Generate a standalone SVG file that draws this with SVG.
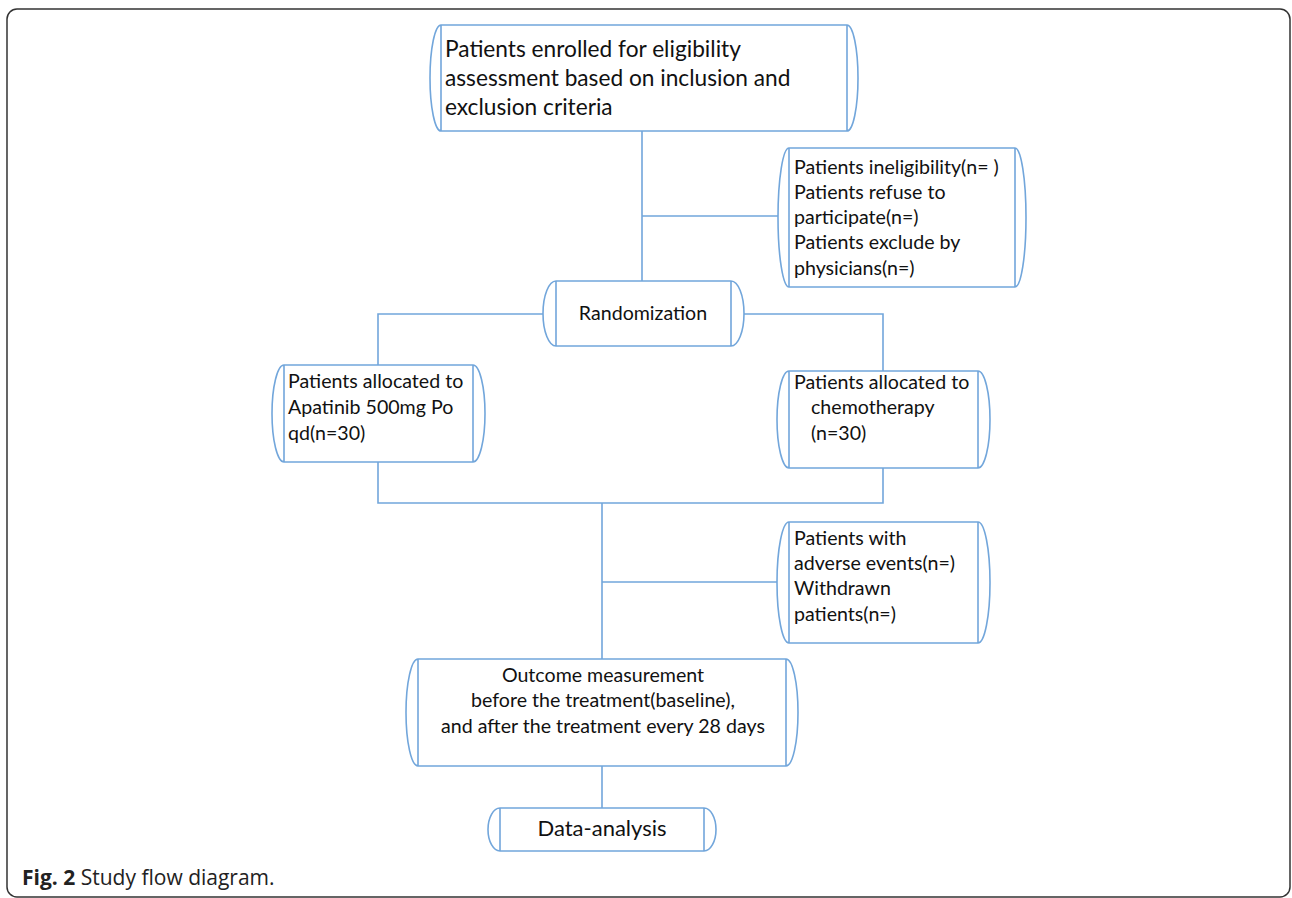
<svg xmlns="http://www.w3.org/2000/svg" width="1292" height="898" viewBox="0 0 1292 898">
<style>
.shape{fill:#fff;stroke:#72a6db;stroke-width:1.6}
.conn{fill:none;stroke:#72a6db;stroke-width:1.6}
.t{font-family:Lato,"Open Sans",sans-serif;font-size:19.6px;fill:#111}
.big{font-size:22.7px}
.c{text-anchor:middle}
.cap{font-family:"Open Sans",sans-serif;font-size:21px;fill:#222}
</style>
<rect x="7" y="9" width="1283" height="888" rx="10" fill="#fff" stroke="#333" stroke-width="1.5"/>
<g id="connectors">
<path class="conn" d="M642 131V281M642 216H778M543 314H378V365M744 314H883V371M378 462V503H883V468M602 503V659M602 582H778M602 766V808"/>
</g>
<g id="n1">
<path class="shape" d="M441 25H847A11 53 0 0 1 847 131H441A11 53 0 0 1 441 25ZM441 25V131M847 25V131"/>
<text class="t big" x="445" y="57">Patients enrolled for eligibility</text>
<text class="t big" x="445" y="86">assessment based on inclusion and</text>
<text class="t big" x="445" y="115">exclusion criteria</text>
</g>
<g id="n2">
<path class="shape" d="M789 148H1015A11 69.5 0 0 1 1015 287H789A11 69.5 0 0 1 789 148ZM789 148V287M1015 148V287"/>
<text class="t" x="794" y="174">Patients ineligibility(n= )</text>
<text class="t" x="794" y="199">Patients refuse to</text>
<text class="t" x="794" y="224">participate(n=)</text>
<text class="t" x="794" y="249">Patients exclude by</text>
<text class="t" x="794" y="275">physicians(n=)</text>
</g>
<g id="n3">
<path class="shape" d="M556 281H731A13 32.5 0 0 1 731 346H556A13 32.5 0 0 1 556 281ZM556 281V346M731 281V346"/>
<text class="t c" x="643" y="320">Randomization</text>
</g>
<g id="n4">
<path class="shape" d="M284 365H473A12 48.5 0 0 1 473 462H284A12 48.5 0 0 1 284 365ZM284 365V462M473 365V462"/>
<text class="t" x="288" y="388">Patients allocated to</text>
<text class="t" x="288" y="414">Apatinib 500mg Po</text>
<text class="t" x="288" y="440">qd(n=30)</text>
</g>
<g id="n5">
<path class="shape" d="M789 371H978A12 48.5 0 0 1 978 468H789A12 48.5 0 0 1 789 371ZM789 371V468M978 371V468"/>
<text class="t" x="794" y="389">Patients allocated to</text>
<text class="t" x="811" y="414">chemotherapy</text>
<text class="t" x="811" y="440">(n=30)</text>
</g>
<g id="n6">
<path class="shape" d="M789 522H978A12 60.5 0 0 1 978 643H789A12 60.5 0 0 1 789 522ZM789 522V643M978 522V643"/>
<text class="t" x="794" y="545">Patients with</text>
<text class="t" x="794" y="570">adverse events(n=)</text>
<text class="t" x="794" y="595">Withdrawn</text>
<text class="t" x="794" y="621">patients(n=)</text>
</g>
<g id="n7">
<path class="shape" d="M418 659H786A12 53.5 0 0 1 786 766H418A12 53.5 0 0 1 418 659ZM418 659V766M786 659V766"/>
<text class="t c" x="603" y="682">Outcome measurement</text>
<text class="t c" x="603" y="707">before the treatment(baseline),</text>
<text class="t c" x="603" y="733">and after the treatment every 28 days</text>
</g>
<g id="n8">
<path class="shape" d="M500 808H704A12 21.5 0 0 1 704 851H500A12 21.5 0 0 1 500 808ZM500 808V851M704 808V851"/>
<text class="t c" x="602" y="836" style="font-size:22px">Data-analysis</text>
</g>
<text class="cap" x="22" y="885"><tspan font-weight="bold">Fig. 2</tspan> Study flow diagram.</text>
</svg>
